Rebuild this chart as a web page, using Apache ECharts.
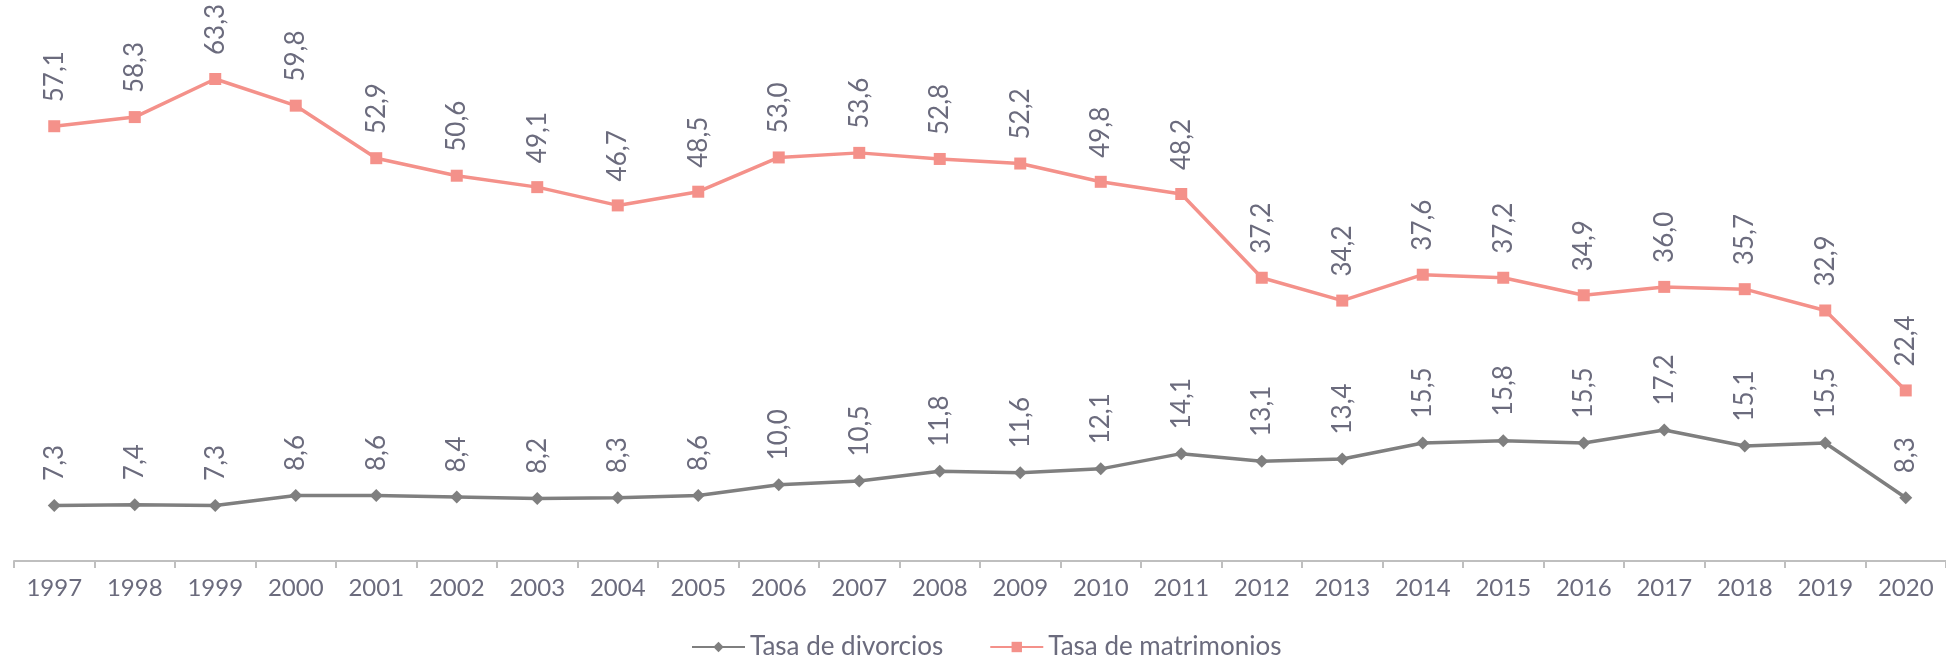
<!DOCTYPE html>
<html>
<head>
<meta charset="utf-8">
<script src="https://cdn.jsdelivr.net/npm/echarts@6/dist/echarts.min.js"></script>
<style>html,body{margin:0;padding:0;background:#fff}#c{width:1946px;height:656px}</style>
</head>
<body>
<div id="c"></div>
<script>
const years = ['1997','1998','1999','2000','2001','2002','2003','2004','2005','2006','2007','2008','2009','2010','2011','2012','2013','2014','2015','2016','2017','2018','2019','2020'];
const divorcios = [7.3,7.4,7.3,8.6,8.6,8.4,8.2,8.3,8.6,10.0,10.5,11.8,11.6,12.1,14.1,13.1,13.4,15.5,15.8,15.5,17.2,15.1,15.5,8.3];
const matrimonios = [57.1,58.3,63.3,59.8,52.9,50.6,49.1,46.7,48.5,53.0,53.6,52.8,52.2,49.8,48.2,37.2,34.2,37.6,37.2,34.9,36.0,35.7,32.9,22.4];
const nameDiv = 'Tasa de divorcios';
const nameMat = 'Tasa de matrimonios';

const FONT = 'Lato';
const TXT = '#6b6b7d';
const fmt = p => p.value.toFixed(1).replace('.', ',');
const lbl = {
  show: true, position: 'top', rotate: 90, align: 'left', verticalAlign: 'middle',
  distance: 18, color: TXT, fontFamily: FONT, fontSize: 26, formatter: fmt
};
const chart = echarts.init(document.getElementById('c'), null, {renderer: 'canvas'});
chart.setOption({
  animation: false,
  grid: {left: 14, right: 0, top: 28, bottom: 95, containLabel: false},
  legend: {
    left: 686, top: 629, itemWidth: 53, itemHeight: 13, itemGap: 46,
    textStyle: {color: TXT, fontFamily: FONT, fontSize: 26},
    data: [nameDiv, nameMat]
  },
  xAxis: {
    type: 'category', data: years, boundaryGap: true,
    axisLine: {lineStyle: {color: '#bfbfbf', width: 2}},
    axisTick: {show: true, length: 7, lineStyle: {color: '#bfbfbf', width: 2}},
    axisLabel: {color: TXT, fontFamily: FONT, fontSize: 24, margin: 15}
  },
  yAxis: {type: 'value', min: 0, max: 70, show: false, splitLine: {show: false}},
  series: [
    {name: nameDiv, type: 'line', data: divorcios, symbol: 'diamond', symbolSize: 13,
     lineStyle: {color: '#7f7f7f', width: 3.5}, itemStyle: {color: '#7f7f7f'}, label: lbl},
    {name: nameMat, type: 'line', data: matrimonios, symbol: 'rect', symbolSize: 12,
     lineStyle: {color: '#f4918a', width: 3.5}, itemStyle: {color: '#f4918a'}, label: lbl}
  ]
});
</script>
</body>
</html>
